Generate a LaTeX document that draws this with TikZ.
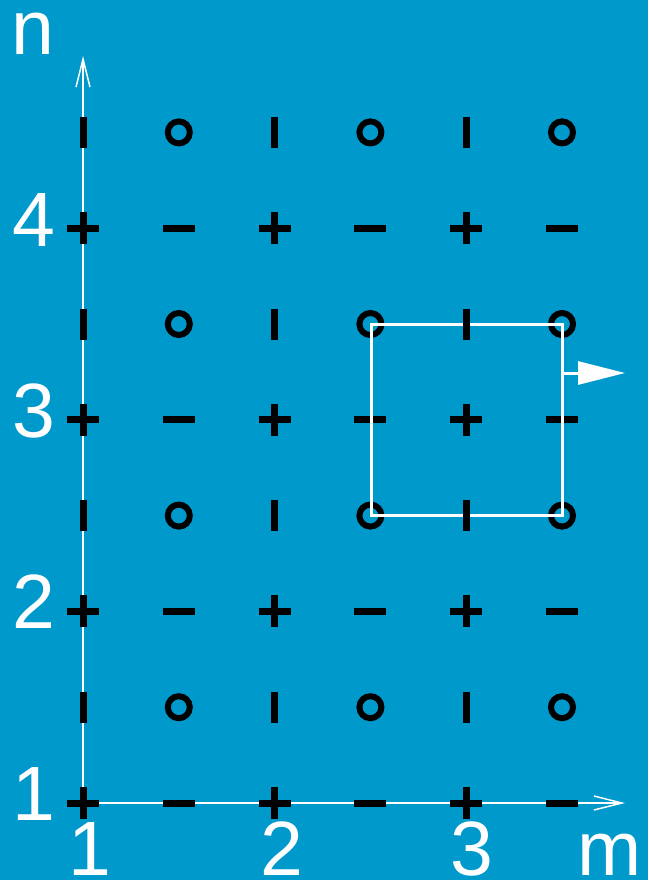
\documentclass[tikz,border=0pt]{standalone}
\usepackage{fontspec}
\setmainfont{Liberation Sans}
\usetikzlibrary{arrows.meta}
\definecolor{bg}{RGB}{0,153,204}
\begin{document}
\begin{tikzpicture}[x=1pt,y=-1pt,
  lbl/.style={text=white,font=\fontsize{77}{80}\selectfont,inner sep=0pt,anchor=base},
  sym/.style={line width=7pt,black},
  ring/.style={line width=6pt,black},
  axis/.style={white,line width=1.5pt,-{Straight Barb[length=28pt,width=14pt]}},
  frame/.style={white,line width=3pt}]
\fill[bg] (0,0) rectangle (648,880);
\useasboundingbox (0,0) rectangle (648,880);
% axes
\coordinate (O) at (83,803);
\coordinate (ytip) at (83,56);
\coordinate (xtip) at (625,803);
\draw[axis] (O) -- (ytip);
\draw[axis] (O) -- (xtip);
% circles
\foreach \i in {1,3,5}{
  \foreach \j in {0,...,3}{
    \draw[ring] ({83+95.8*\i},{803-95.8*(2*\j+1)}) circle (11pt);
  }
}
% dashes
\foreach \i in {1,3,5}{
  \foreach \j in {0,...,3}{
    \draw[sym] ({83+95.8*\i-16},{803-95.8*2*\j}) -- ++(32,0);
  }
}
% plus signs
\foreach \i in {0,2,4}{
  \foreach \j in {0,...,3}{
    \draw[sym] ({83+95.8*\i-16},{803-95.8*2*\j}) -- ++(32,0);
    \draw[sym] ({83+95.8*\i},{803-95.8*2*\j-16}) -- ++(0,32);
  }
}
% frame and its arrow
\coordinate (fa) at (371,324);
\coordinate (fb) at (562,515.6);
\coordinate (fr) at (562,373);
\coordinate (ft) at (625,373);
\draw[frame] (fa) rectangle (fb);
\draw[frame,-{Triangle[length=47pt,width=23pt]}] (fr) -- (ft);
% bars
\foreach \i in {0,2,4}{
  \foreach \j in {0,...,3}{
    \draw[sym] ({83+95.8*\i},{803-95.8*(2*\j+1)-15.5}) -- ++(0,31);
  }
}
% labels
\node[lbl] (n) at (33,55) {n};
\node[lbl] (m) at (610,875) {m};
\node[lbl] (l4) at (34,246) {4};
\node[lbl] (l3) at (34,437) {3};
\node[lbl] (l2) at (34,628) {2};
\node[lbl] (l1) at (34,820) {1};
\node[lbl] (b1) at (90,875) {1};
\node[lbl] (b2) at (282,875) {2};
\node[lbl] (b3) at (472,875) {3};
\end{tikzpicture}
\end{document}
